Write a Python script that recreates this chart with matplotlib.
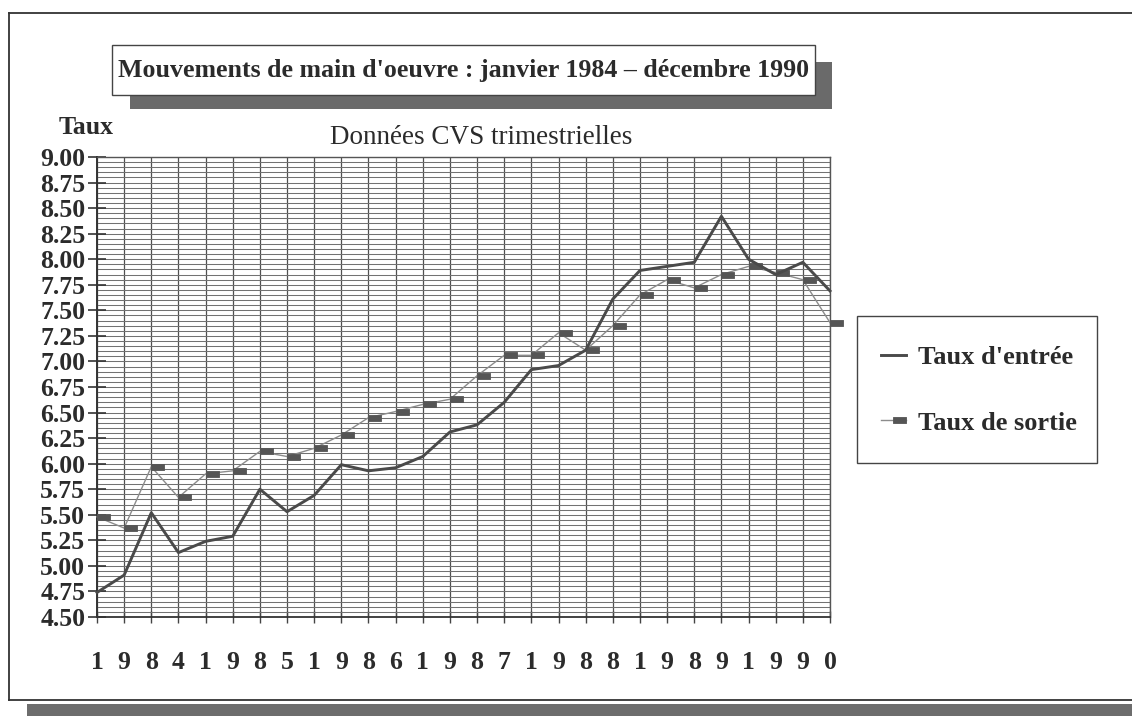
import matplotlib
matplotlib.use("Agg")
import matplotlib.pyplot as plt
import numpy as np
from matplotlib.path import Path
from matplotlib.patches import Rectangle
from matplotlib.lines import Line2D

# ---------------- data ----------------
years = ["1984", "1985", "1986", "1987", "1988", "1989", "1990"]
quarter_labels = [ch for y in years for ch in y]  # one digit under each quarter

taux_entree = [4.74, 4.91, 5.52, 5.13, 5.24, 5.29, 5.75, 5.53, 5.69, 5.99,
               5.93, 5.96, 6.07, 6.31, 6.38, 6.60, 6.92, 6.96, 7.11, 7.61,
               7.89, 7.93, 7.97, 8.42, 8.00, 7.85, 7.97, 7.69]
taux_sortie = [5.48, 5.37, 5.97, 5.67, 5.90, 5.93, 6.12, 6.07, 6.15, 6.28,
               6.45, 6.51, 6.58, 6.63, 6.86, 7.06, 7.06, 7.28, 7.11, 7.35,
               7.65, 7.80, 7.72, 7.85, 7.93, 7.87, 7.80, 7.38]
y_ticks = [4.50 + 0.25 * i for i in range(19)]
series_labels = ["Taux d'entrée", "Taux de sortie"]

title_text = "Mouvements de main d'oeuvre : janvier 1984 \u2013 décembre 1990"
subtitle_text = "Données CVS trimestrielles"
ylabel_text = "Taux"

# ---------------- layout ----------------
W, H = 1132, 716
fig = plt.figure(figsize=(W / 100, H / 100), dpi=100)
fig.patch.set_facecolor("white")

def fx(x):
    return x / W

def fy(y):
    return 1 - y / H

TXT = "#2b2b2b"
SERIF = ["Liberation Serif", "DejaVu Serif"]

# outer frame lines
fig.add_artist(Line2D([fx(9), fx(1132)], [fy(13), fy(13)], color="#333", lw=1.3, transform=fig.transFigure))
fig.add_artist(Line2D([fx(9), fx(9)], [fy(13), fy(700)], color="#333", lw=1.3, transform=fig.transFigure))
fig.add_artist(Line2D([fx(9), fx(1132)], [fy(700), fy(700)], color="#333", lw=1.3, transform=fig.transFigure))
# bottom shadow band
fig.add_artist(Rectangle((fx(27), fy(716)), fx(1132 - 27), (716 - 704) / H,
                         transform=fig.transFigure, facecolor="#6d6d6d", edgecolor="none"))

# title box with shadow
fig.add_artist(Rectangle((fx(130), fy(109)), fx(832 - 130), (109 - 62) / H,
                         transform=fig.transFigure, facecolor="#6a6a6a", edgecolor="none"))
fig.add_artist(Rectangle((fx(112), fy(95)), fx(815 - 112), (95 - 45) / H,
                         transform=fig.transFigure, facecolor="white", edgecolor="#444", lw=1.0))
fig.text(fx(464), fy(71), title_text, ha="center", va="center", fontsize=18.6,
         fontweight="bold", family=SERIF, color=TXT)

fig.text(fx(86), fy(128), ylabel_text, ha="center", va="center", fontsize=18.5,
         fontweight="bold", family=SERIF, color=TXT)
fig.text(fx(481), fy(138), subtitle_text, ha="center", va="center", fontsize=19.5,
         family=SERIF, color=TXT)

# ---------------- axes ----------------
ax = fig.add_axes([fx(97), fy(617), fx(830 - 97), (617 - 157) / H])
x = np.arange(len(quarter_labels))
ax.set_xlim(0, len(quarter_labels) - 1)
ax.set_ylim(4.5, 9.0)

ax.set_yticks(y_ticks)
ax.set_yticklabels([f"{v:.2f}" for v in y_ticks], fontsize=18.5, fontweight="bold",
                   family=SERIF, color=TXT)
ax.set_yticks(np.arange(4.5, 9.0001, 0.05), minor=True)
ax.set_xticks(x)
ax.set_xticklabels(quarter_labels, fontsize=18.5, fontweight="bold", family=SERIF, color=TXT)

ax.tick_params(axis="y", which="major", direction="inout", length=13, width=1.2, color="#333", pad=2)
ax.tick_params(axis="y", which="minor", length=0)
ax.tick_params(axis="x", which="major", direction="inout", length=9, width=1.0, color="#444", pad=20)

ax.grid(True, axis="y", which="both", color="#727272", lw=0.75)
ax.grid(True, axis="x", which="major", color="#505050", lw=0.9)
ax.set_axisbelow(True)
for s in ax.spines.values():
    s.set_color("#555")
    s.set_linewidth(1.0)
ax.spines["left"].set_color("#333")
ax.spines["left"].set_linewidth(1.4)
ax.spines["bottom"].set_color("#333")
ax.spines["bottom"].set_linewidth(1.3)

# offset rectangular marker (drawn to the right of the point)
rect_marker = Path([(0, -0.25), (1, -0.25), (1, 0.25), (0, 0.25), (0, -0.25)],
                   [Path.MOVETO, Path.LINETO, Path.LINETO, Path.LINETO, Path.CLOSEPOLY])

l1, = ax.plot(x, taux_entree, color="#4a4a4a", lw=2.1, clip_on=False, zorder=4)
l2, = ax.plot(x, taux_sortie, color="#8c8c8c", lw=1.0, clip_on=False, zorder=3,
              marker=rect_marker, markersize=18, markerfacecolor="#555555",
              markeredgecolor="#555555", markeredgewidth=0.6)

# legend box drawn separately, entries placed inside it
fig.add_artist(Rectangle((fx(857), fy(463)), fx(1097 - 857), (463 - 316) / H,
                         transform=fig.transFigure, facecolor="white", edgecolor="#444", lw=1.0))
leg = fig.legend([l1, l2], series_labels, loc="center left",
                 bbox_to_anchor=(fx(870), fy(390)), frameon=False,
                 prop={"family": SERIF, "weight": "bold", "size": 19},
                 labelspacing=1.6, handlelength=0.95, handletextpad=0.45, borderpad=0.4,
                 borderaxespad=0)
for t in leg.get_texts():
    t.set_color(TXT)

fig.savefig("out.png", dpi=100, facecolor="white")
